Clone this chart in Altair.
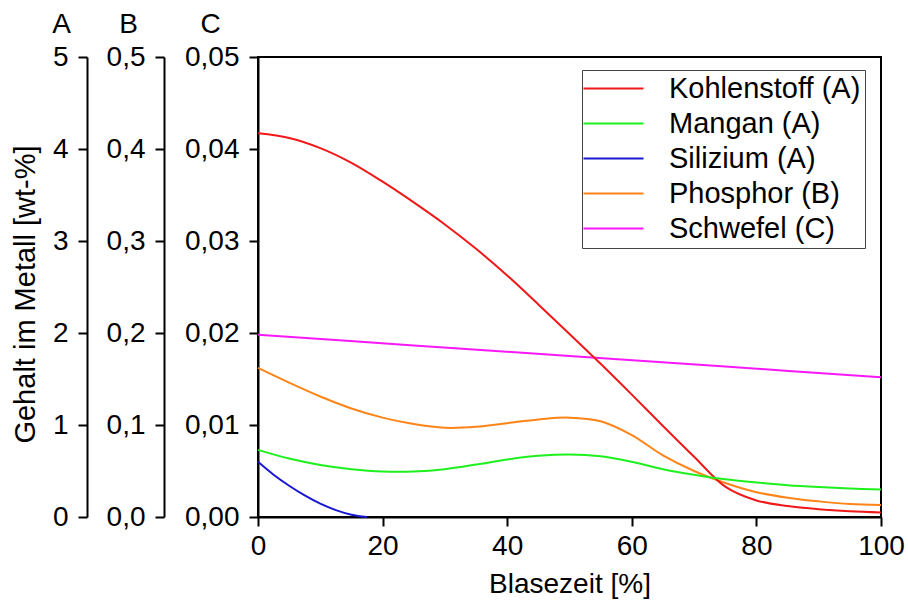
import altair as alt
import pandas as pd

FONT = "Liberation Sans"
FS = 28

# Blasezeit [%]
t_grid = [0, 5, 10, 15, 20, 25, 30, 35, 40, 45, 50, 55, 60, 65, 70, 75, 80, 85, 90, 95, 100]
kohlenstoff = [4.17, 4.12, 4.01, 3.85, 3.645, 3.42, 3.18, 2.915, 2.625, 2.31, 1.99, 1.665, 1.33,
               0.99, 0.655, 0.33, 0.18, 0.12, 0.085, 0.063, 0.05]
mangan = [0.73, 0.635, 0.565, 0.52, 0.495, 0.495, 0.52, 0.57, 0.625, 0.665, 0.68, 0.66, 0.60,
          0.52, 0.46, 0.41, 0.375, 0.345, 0.325, 0.31, 0.30]
phosphor = [0.162, 0.146, 0.131, 0.118, 0.108, 0.101, 0.097, 0.098, 0.102, 0.106, 0.108, 0.104,
            0.089, 0.067, 0.050, 0.037, 0.027, 0.021, 0.017, 0.014, 0.013]
t_si = [0, 2.5, 5, 7.5, 10, 12.5, 15, 17.5]
silizium = [0.60, 0.46, 0.34, 0.235, 0.145, 0.075, 0.025, 0.0]
t_s = [0, 25, 50, 75, 100]
schwefel = [0.0198, 0.01865, 0.0175, 0.01635, 0.0152]

names = ["Kohlenstoff (A)", "Mangan (A)", "Silizium (A)", "Phosphor (B)", "Schwefel (C)"]
colors = ["#f01818", "#1ef01e", "#1818d2", "#ff8418", "#f818f8"]

dfA = pd.concat([
    pd.DataFrame({"t": t_grid, "v": kohlenstoff, "s": names[0]}),
    pd.DataFrame({"t": t_grid, "v": mangan, "s": names[1]}),
    pd.DataFrame({"t": t_si, "v": silizium, "s": names[2]}),
])
dfB = pd.DataFrame({"t": t_grid, "v": phosphor, "s": names[3]})
dfC = pd.DataFrame({"t": t_s, "v": schwefel, "s": names[4]})

legend = alt.Legend(
    orient="none", legendX=324, legendY=13, title=None,
    symbolType="M-1.7,0H4.3", symbolSize=400, symbolStrokeWidth=2,
    labelFont=FONT, labelFontSize=29, labelOffset=54, labelLimit=500,
    rowPadding=5, padding=4, strokeColor="#444444", fillColor="white",
)
color = alt.Color("s:N", scale=alt.Scale(domain=names, range=colors), legend=legend)

x = alt.X("t:Q", scale=alt.Scale(domain=[0, 100], nice=False),
          axis=alt.Axis(values=[0, 20, 40, 60, 80, 100], title="Blasezeit [%]", grid=False,
                        labelFlush=False, labelPadding=6, titleY=75,
                        titleBaseline="alphabetic"))

common_axis = dict(orient="left", grid=False, titleAngle=0, titleAlign="center",
                   titleBaseline="alphabetic", titleY=-25, labelPadding=10)

LINE = dict(strokeWidth=2, interpolate="catmull-rom")

layerA = alt.Chart(dfA).mark_line(**LINE).encode(
    x=x,
    y=alt.Y("v:Q", scale=alt.Scale(domain=[0, 5], nice=False),
            axis=alt.Axis(values=[0, 1, 2, 3, 4, 5], format="d", offset=171,
                          title="A", titleX=-26, **common_axis)),
    color=color,
    detail="s:N",
)
layerB = alt.Chart(dfB).mark_line(**LINE).encode(
    x=x,
    y=alt.Y("v:Q", scale=alt.Scale(domain=[0, 0.5], nice=False),
            axis=alt.Axis(values=[0, 0.1, 0.2, 0.3, 0.4, 0.5],
                          labelExpr="replace(format(datum.value, '.1f'), '.', ',')",
                          offset=94, title="B", titleX=-36, **common_axis)),
    color=color,
)
layerC = alt.Chart(dfC).mark_line(**LINE).encode(
    x=x,
    y=alt.Y("v:Q", scale=alt.Scale(domain=[0, 0.05], nice=False),
            axis=alt.Axis(values=[0, 0.01, 0.02, 0.03, 0.04, 0.05],
                          labelExpr="replace(format(datum.value, '.2f'), '.', ',')",
                          offset=0, title="C", titleX=-48, **common_axis)),
    color=color,
)
layerTitle = alt.Chart(dfA).mark_line(opacity=0, strokeOpacity=0).encode(
    x=x,
    y=alt.Y("v:Q", scale=alt.Scale(domain=[0, 5], nice=False),
            axis=alt.Axis(orient="left", grid=False, labels=False, ticks=False, domain=False,
                          offset=171, title="Gehalt im Metall [wt-%]", titleAngle=270,
                          titleAlign="center", titleBaseline="alphabetic", titleLimit=1000,
                          titleFontSize=29, titleX=-53, titleY=237)),
    detail="s:N",
)

chart = alt.layer(layerC, layerB, layerA, layerTitle).resolve_scale(
    y="independent"
).properties(
    width=623, height=460,
    autosize=alt.AutoSizeParams(type="none"),
    padding={"left": 258, "top": 57, "right": 27, "bottom": 84},
).configure(
    font=FONT,
).configure_view(
    stroke="black", strokeWidth=2,
).configure_axis(
    labelFont=FONT, labelFontSize=FS, labelColor="black",
    titleFont=FONT, titleFontSize=FS, titleFontWeight="normal", titleColor="black",
    domainColor="black", domainWidth=2, tickColor="black", tickWidth=2, tickSize=9,
)

chart.save("out.html", embed_options={"renderer": "svg", "actions": False})
